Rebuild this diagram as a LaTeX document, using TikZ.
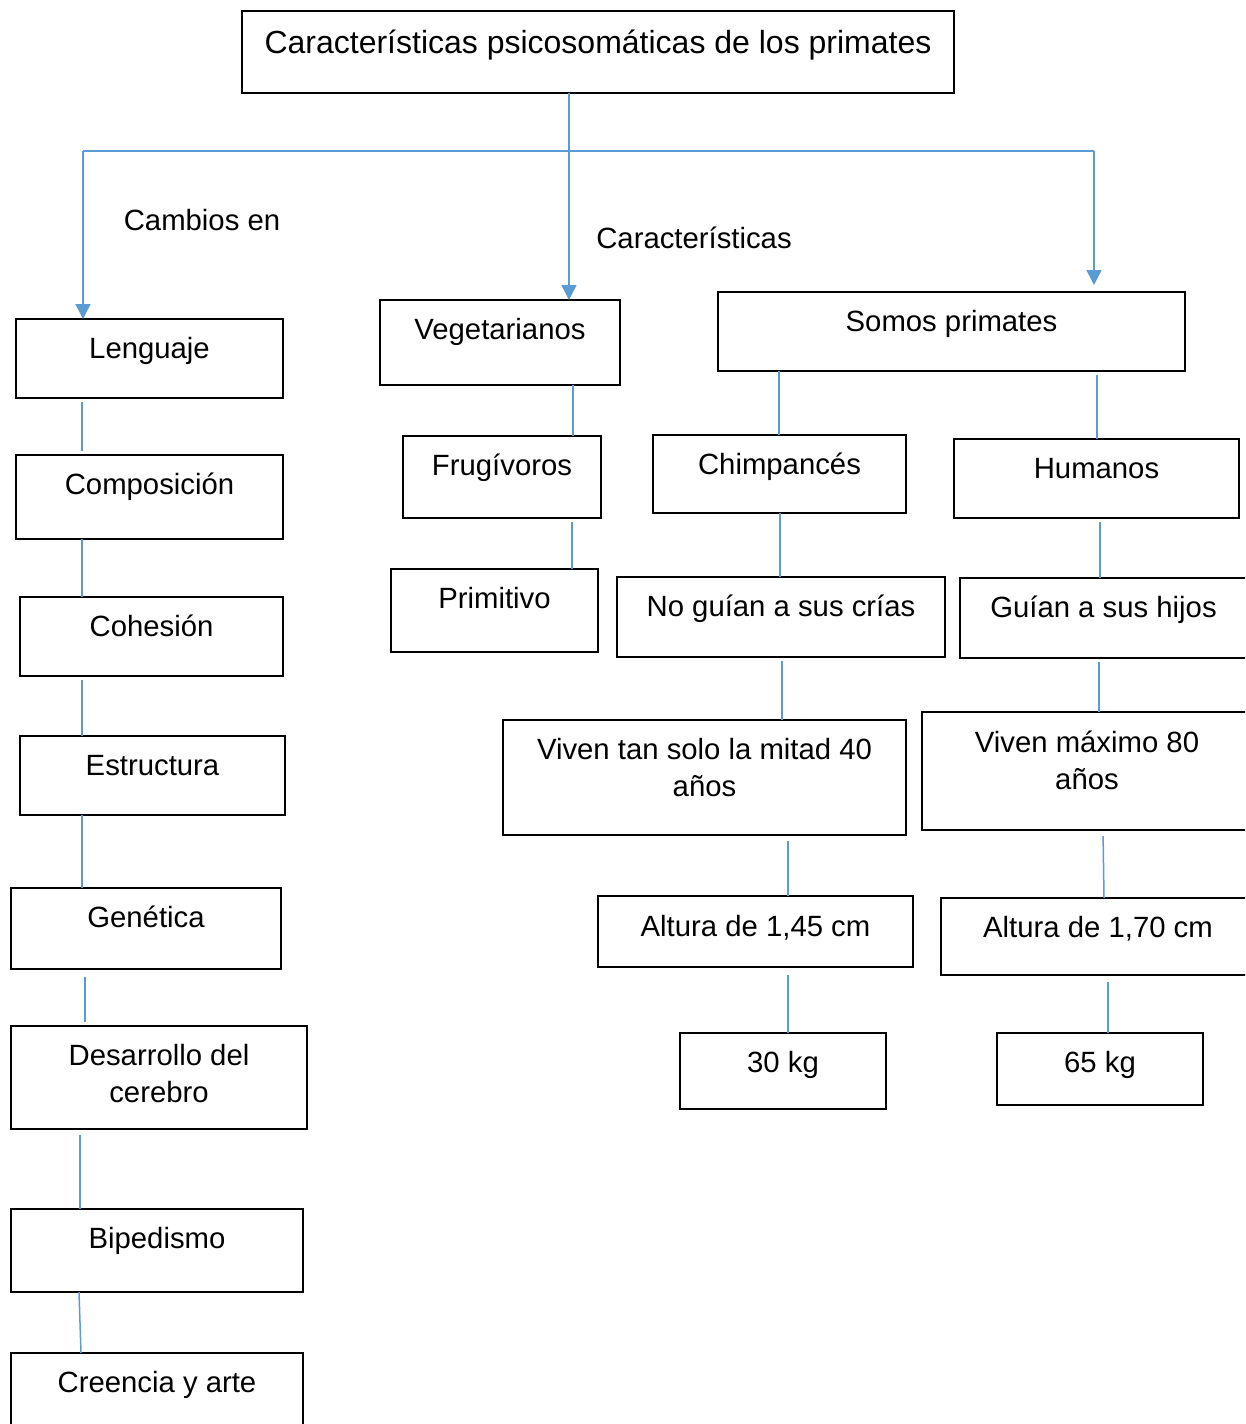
\documentclass[tikz,border=0pt]{standalone}
\usepackage{fontspec}
\setmainfont{Liberation Sans}
\usetikzlibrary{arrows.meta}
\definecolor{lineblue}{RGB}{91,155,213}
\tikzset{
  every node/.style={font=\fontsize{29.3}{37}\selectfont},
  box/.style={draw=black, line width=2, inner sep=0, outer sep=0,
    anchor=north west, text height=39},
  conn/.style={draw=lineblue, line width=1.5},
  arr/.style={-{Triangle[width=15pt,length=15pt]}},
  freetext/.style={anchor=base, inner sep=0}
}
\newcommand{\twolines}[2]{\begin{tabular}[t]{@{}c@{}}#1\\#2\end{tabular}}
\begin{document}
\begin{tikzpicture}[x=1pt,y=-1pt]
\useasboundingbox (0,0) rectangle (1245,1424);
\clip (0,0) rectangle (1245,1424);

% title
\node[box, minimum width=712, text height=42, text depth=40, font=\fontsize{32}{38}\selectfont] (title) at (242,11) {Características psicosomáticas de los primates};

% left column
\node[box, minimum width=267, text depth=40] (lenguaje) at (16,319) {Lenguaje};
\node[box, minimum width=267, text depth=45] (composicion) at (16,455) {Composición};
\node[box, minimum width=263, text depth=40] (cohesion) at (20,597) {Cohesión};
\node[box, minimum width=265, text depth=40] (estructura) at (20,736) {Estructura};
\node[box, minimum width=270, text depth=42] (genetica) at (11,888) {Genética};
\node[box, minimum width=296, text depth=64] (desarrollo) at (11,1026) {\twolines{Desarrollo del}{cerebro}};
\node[box, minimum width=292, text depth=44] (bipedismo) at (11,1209) {Bipedismo};
\node[box, minimum width=292, text depth=51] (creencia) at (11,1353) {Creencia y arte};

% middle column
\node[box, minimum width=240, text depth=46] (vegetarianos) at (380,300) {Vegetarianos};
\node[box, minimum width=198, text depth=43] (frugivoros) at (403,436) {Frugívoros};
\node[box, minimum width=207, text depth=44] (primitivo) at (391,569) {Primitivo};

% right part
\node[box, minimum width=467, text depth=40] (somos) at (718,292) {Somos primates};
\node[box, minimum width=253, text depth=39] (chimp) at (653,435) {Chimpancés};
\node[box, minimum width=285, text depth=40] (humanos) at (954,439) {Humanos};
\node[box, minimum width=328, text depth=41] (noguian) at (617,577) {No guían a sus crías};
\node[box, minimum width=287, text depth=41] (guian) at (960,578) {Guían a sus hijos};
\node[box, minimum width=403, text depth=76] (vivenmitad) at (503,720) {\twolines{Viven tan solo la mitad 40}{años}};
\node[box, minimum width=330, text depth=78, text height=40] (vivenmax) at (922,712) {\twolines{Viven máximo 80}{años}};
\node[box, minimum width=315, text depth=31, text height=40] (altura145) at (598,896) {Altura de 1,45 cm};
\node[box, minimum width=314, text depth=38] (altura170) at (941,898) {Altura de 1,70 cm};
\node[box, minimum width=206, text depth=37] (kg30) at (680,1033) {30 kg};
\node[box, minimum width=206, text depth=33] (kg65) at (997,1033) {65 kg};

% free labels
\node[freetext] (cambios) at (202,230) {Cambios en};
\node[freetext] (caract) at (694,248) {Características};

% junctions
\coordinate (jl) at (83,151);
\coordinate (jc) at (569,151);
\coordinate (jr) at (1094,151);

\draw[conn] (title.south -| jc) -- (jc);
\draw[conn] (jl) -- (jr);
\draw[conn,arr] (jl) -- (jl |- lenguaje.north);
\draw[conn,arr] (jc) -- (jc |- vegetarianos.north);
\draw[conn,arr,shorten >=7] (jr) -- (jr |- somos.north);

% left column connectors
\draw[conn, shorten <=4, shorten >=4] (lenguaje.south -| 82,0) -- (composicion.north -| 82,0);
\draw[conn] (composicion.south -| 82,0) -- (cohesion.north -| 82,0);
\draw[conn, shorten <=4] (cohesion.south -| 82,0) -- (estructura.north -| 82,0);
\draw[conn] (estructura.south -| 82,0) -- (genetica.north -| 82,0);
\draw[conn, shorten <=8, shorten >=4] (genetica.south -| 85,0) -- (desarrollo.north -| 85,0);
\draw[conn, shorten <=6] (desarrollo.south -| 80,0) -- (bipedismo.north -| 80,0);
\draw[conn] (bipedismo.south -| 79,0) -- (creencia.north -| 81,0);

% middle connectors
\draw[conn] (vegetarianos.south -| 573,0) -- (frugivoros.north -| 573,0);
\draw[conn, shorten <=4] (frugivoros.south -| 572,0) -- (primitivo.north -| 572,0);

% right connectors
\draw[conn] (somos.south -| 779,0) -- (chimp.north -| 779,0);
\draw[conn, shorten <=4] (somos.south -| 1097,0) -- (humanos.north -| 1097,0);
\draw[conn] (chimp.south -| 780,0) -- (noguian.north -| 780,0);
\draw[conn, shorten <=4] (humanos.south -| 1100,0) -- (guian.north -| 1100,0);
\draw[conn, shorten <=4] (noguian.south -| 782,0) -- (vivenmitad.north -| 782,0);
\draw[conn, shorten <=4] (guian.south -| 1099,0) -- (vivenmax.north -| 1099,0);
\draw[conn, shorten <=6] (vivenmitad.south -| 788,0) -- (altura145.north -| 788,0);
\draw[conn, shorten <=6] (vivenmax.south -| 1103,0) -- (altura170.north -| 1104,0);
\draw[conn, shorten <=8] (altura145.south -| 788,0) -- (kg30.north -| 788,0);
\draw[conn, shorten <=7] (altura170.south -| 1108,0) -- (kg65.north -| 1108,0);
\end{tikzpicture}
\end{document}
